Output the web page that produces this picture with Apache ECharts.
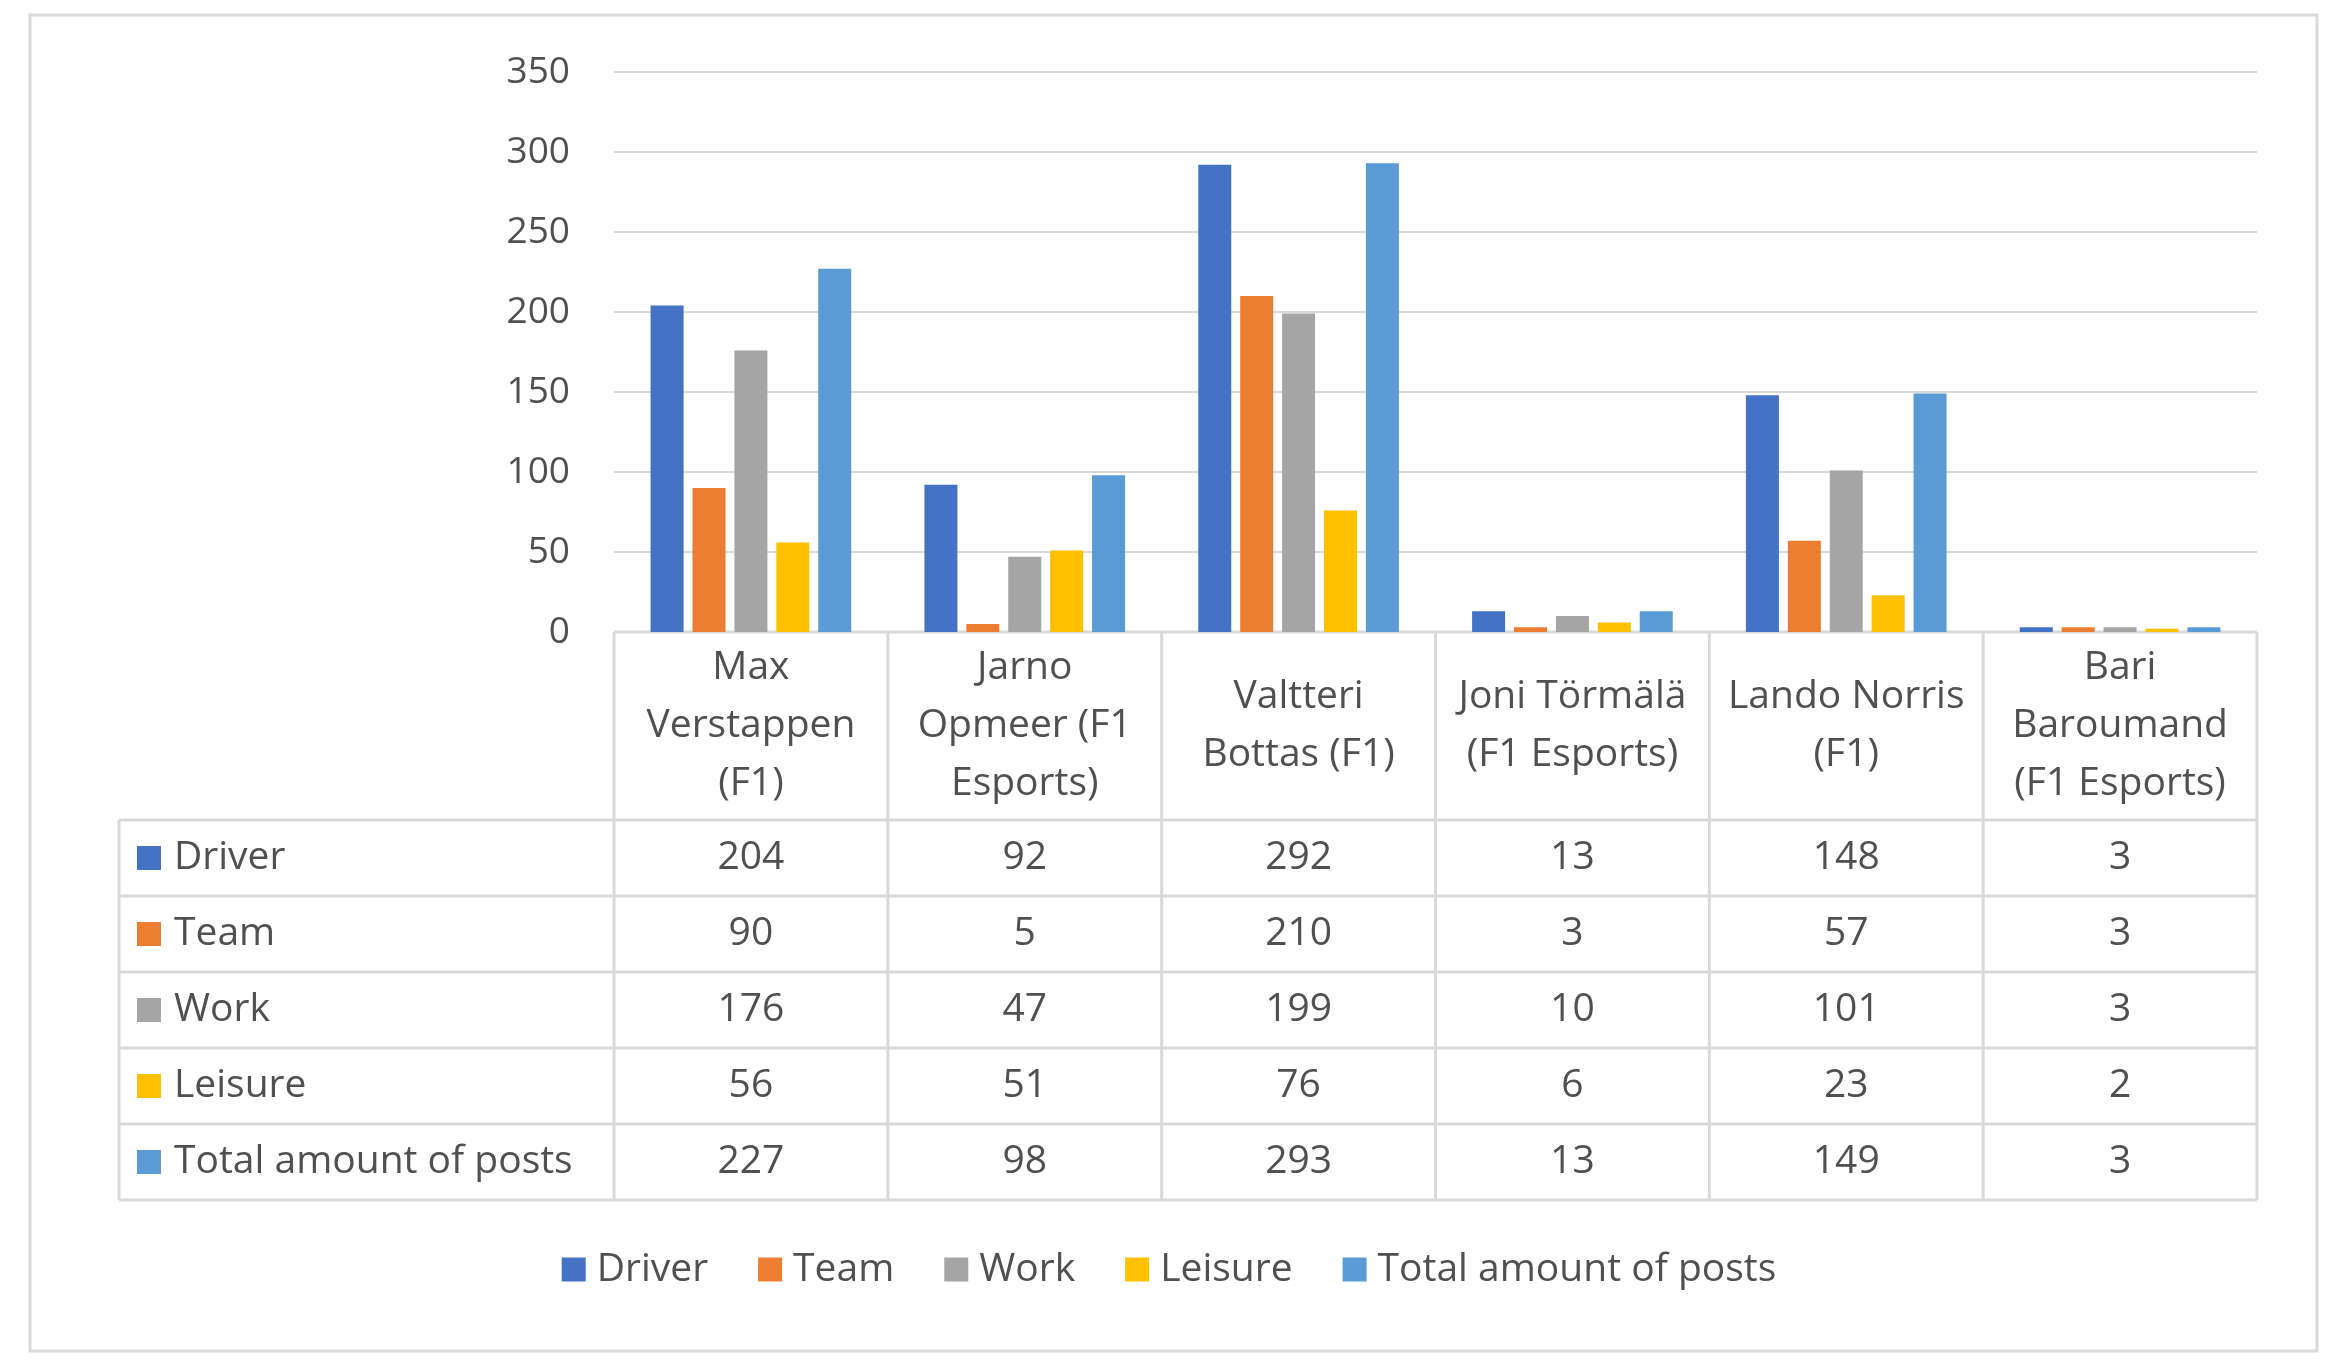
<!DOCTYPE html>
<html><head><meta charset="utf-8">
<script src="https://cdn.jsdelivr.net/npm/echarts@6/dist/echarts.min.js"></script>
<style>html,body{margin:0;padding:0;background:#fff}#c{width:2338px;height:1366px}</style>
</head><body><div id="c"></div>
<script>
const categories = ['Max\nVerstappen\n(F1)','Jarno\nOpmeer (F1\nEsports)','Valtteri\nBottas (F1)','Joni Törmälä\n(F1 Esports)','Lando Norris\n(F1)','Bari\nBaroumand\n(F1 Esports)'];
const seriesNames = ['Driver','Team','Work','Leisure','Total amount of posts'];
const driver = [204,92,292,13,148,3];
const team = [90,5,210,3,57,3];
const work = [176,47,199,10,101,3];
const leisure = [56,51,76,6,23,2];
const total = [227,98,293,13,149,3];
const yTicks = [0,50,100,150,200,250,300,350];
const colors = ['#4472C4','#ED7D31','#A5A5A5','#FFC000','#5B9BD5'];
const allData = [driver,team,work,leisure,total];

const L=614,R=2257,T=72,B=632,TL=119,HB=820,RH=76;
const font='"Open Sans", sans-serif';
const tc='#505050', lc='#d9d9d9', fs=39;
const chart = echarts.init(document.getElementById('c'));
chart.setOption({
  animation:false,
  grid:{left:L,right:2338-R,top:T,bottom:1366-B},
  xAxis:{type:'category',data:categories,axisTick:{show:false},axisLine:{show:false},
    axisLabel:{margin:94,verticalAlign:'middle',color:tc,fontSize:fs,lineHeight:58,fontFamily:font,interval:0}},
  yAxis:{type:'value',min:yTicks[0],max:yTicks[yTicks.length-1],interval:50,
    axisLabel:{color:tc,fontSize:37,fontFamily:font,margin:44},
    splitLine:{lineStyle:{color:lc,width:2}},axisLine:{show:false}},
  legend:{bottom:1366-1272-22,left:'center',itemWidth:24,itemHeight:24,itemGap:50,icon:'rect',
    textStyle:{color:tc,fontSize:fs,fontFamily:font,padding:[0,0,0,6]},data:seriesNames},
  series: seriesNames.map((n,i)=>({name:n,type:'bar',data:allData[i],barWidth:33,barGap:'27%',itemStyle:{color:colors[i]}}))
});
const g=[];
const line=(x1,y1,x2,y2)=>g.push({type:'line',shape:{x1,y1,x2,y2},style:{stroke:lc,lineWidth:3}});
g.push({type:'rect',shape:{x:30,y:15,width:2287,height:1336},style:{fill:'none',stroke:lc,lineWidth:3}});
const bw=(R-L)/categories.length;
for(let i=0;i<=categories.length;i++){const x=L+i*bw;line(x,B,x,HB+5*RH);}
line(L,B,R,B);
line(TL,HB,TL,HB+5*RH);
for(let r=0;r<=5;r++) line(TL,HB+r*RH,R,HB+r*RH);
for(let r=0;r<5;r++){
  const cy=HB+r*RH+RH/2;
  g.push({type:'rect',shape:{x:137,y:cy-12,width:24,height:24},style:{fill:colors[r]}});
  g.push({type:'text',x:174,y:cy,style:{text:seriesNames[r],fill:tc,fontSize:fs,fontFamily:font,verticalAlign:'middle'}});
  for(let c=0;c<categories.length;c++){
    const cx=chart.convertToPixel({xAxisIndex:0},c);
    g.push({type:'text',x:cx,y:cy,style:{text:String(allData[r][c]),fill:tc,fontSize:fs,fontFamily:font,align:'center',verticalAlign:'middle'}});
  }
}
chart.setOption({graphic:g});
</script></body></html>
